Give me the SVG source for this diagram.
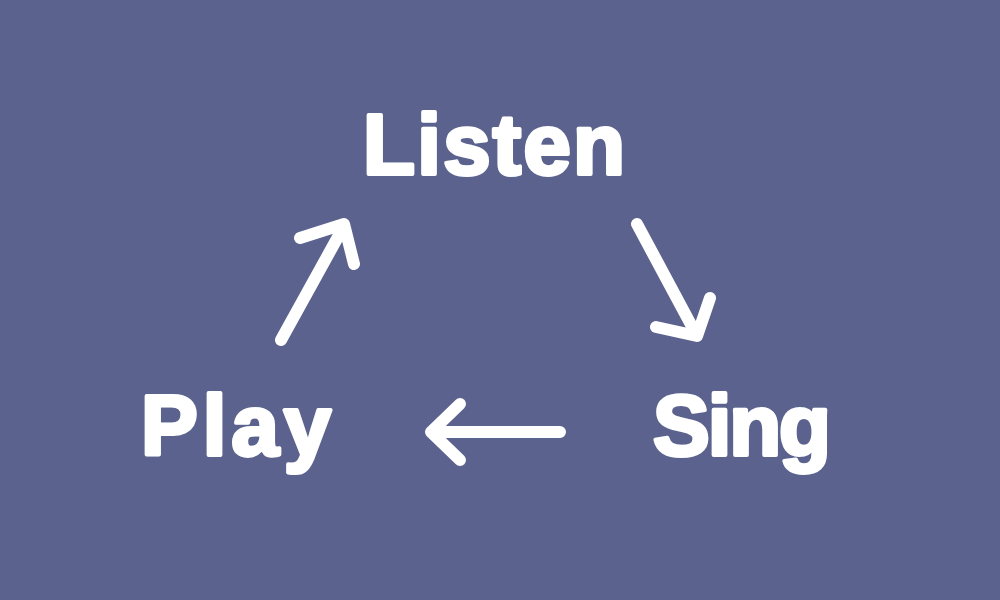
<svg xmlns="http://www.w3.org/2000/svg" width="1000" height="600" viewBox="0 0 1000 600">
<style>
.lbl{font-family:"Liberation Sans","Noto Sans",Arial,sans-serif;font-weight:bold;font-size:85px;fill:#fff;stroke:#fff;stroke-width:4;stroke-linejoin:round;text-anchor:middle}
.arr{fill:none;stroke:#fff;stroke-width:12;stroke-linecap:round;stroke-linejoin:round}
</style>
<rect width="1000" height="600" fill="#5A628D"/>
<g id="listen"><text class="lbl" x="494" y="174" textLength="262" lengthAdjust="spacing">Listen</text></g>
<g id="sing"><text class="lbl" x="742" y="455" textLength="178" lengthAdjust="spacing">Sing</text></g>
<g id="play"><text class="lbl" x="236" y="455" textLength="190" lengthAdjust="spacing">Play</text></g>
<g id="connectors">
<path class="arr" d="M281,340 L344,226 M300,238 L344,224 L354,264"/>
<path class="arr" d="M637,224 L696,334 M656,327 L697,336 L710,298"/>
<path class="arr" d="M560,432 L431,432 M460,404 L431,432 L460,460"/>
</g>
</svg>
